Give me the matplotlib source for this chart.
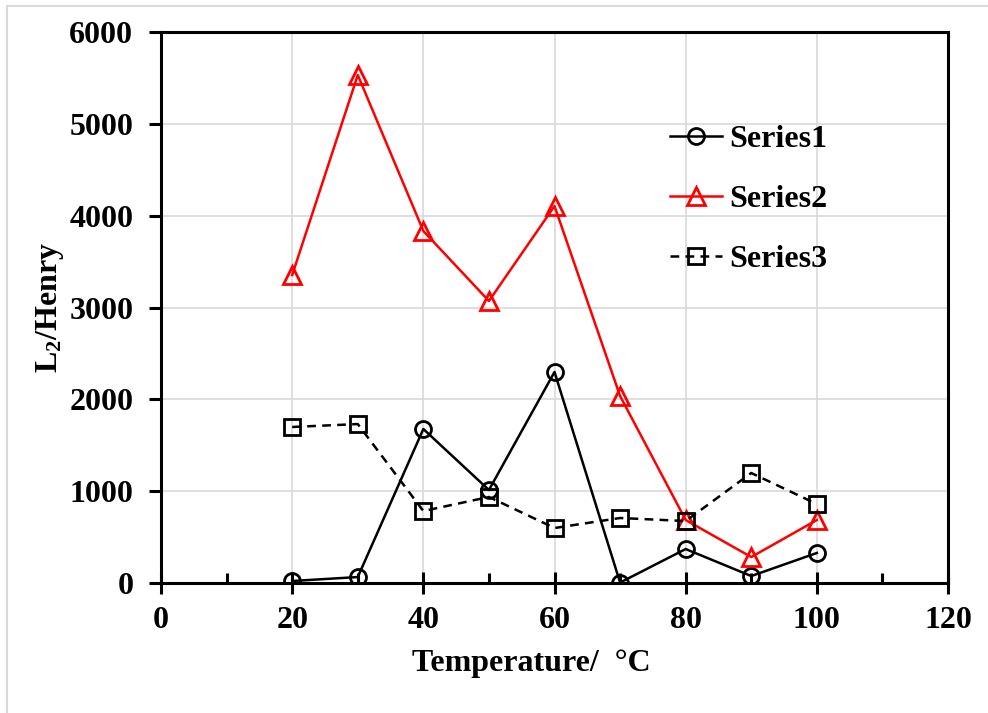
#!/usr/bin/env python3
"""Inductance L2 versus temperature for three series."""

import matplotlib

matplotlib.use("Agg")
import matplotlib.pyplot as plt
from matplotlib.patches import Rectangle
from matplotlib.ticker import MultipleLocator

plt.rcParams["font.family"] = ["Liberation Serif", "DejaVu Serif"]
plt.rcParams["font.weight"] = "bold"
plt.rcParams["mathtext.fontset"] = "custom"
plt.rcParams["mathtext.rm"] = "Liberation Serif:bold"
plt.rcParams["mathtext.default"] = "rm"

temperature = [20, 30, 40, 50, 60, 70, 80, 90, 100]
series1 = [22, 65, 1677, 1013, 2298, 5, 370, 76, 327]
series2 = [3354, 5532, 3833, 3071, 4105, 2036, 686, 283, 686]
series3 = [1699, 1731, 784, 937, 599, 708, 675, 1198, 860]
labels = ["Series1", "Series2", "Series3"]

FS = 23

fig = plt.figure(figsize=(9.88, 7.13), dpi=100)
ax = fig.add_axes([0.163, 0.1823, 0.7965, 0.7728])

# light gray frame around the whole picture
fig.patches.append(
    Rectangle((7 / 988, -0.01), 1.0, 1 - 6 / 713 + 0.01, transform=fig.transFigure,
              fill=False, edgecolor="#d9d9d9", linewidth=1.5)
)

common = dict(linewidth=1.8, markerfacecolor="none", markeredgewidth=2.0)
ax.plot(temperature, series1, color="black", marker="o", markersize=11.5,
        label=labels[0], **common)
ax.plot(temperature, series2, color="red", marker="^", markersize=12.5,
        label=labels[1], **common)
ax.plot(temperature, series3, color="black", linestyle=(0, (3.5, 2.5)), marker="s",
        markersize=11, label=labels[2], **common)

ax.set_xlim(0, 120)
ax.set_ylim(0, 6000)
ax.xaxis.set_major_locator(MultipleLocator(20))
ax.xaxis.set_minor_locator(MultipleLocator(10))
ax.yaxis.set_major_locator(MultipleLocator(1000))

ax.grid(True, which="major", color="#d9d9d9", linewidth=1.2)
ax.set_axisbelow(True)

for spine in ax.spines.values():
    spine.set_linewidth(2.2)

ax.tick_params(axis="x", which="major", direction="inout", length=16, width=2.2,
               labelsize=FS, pad=8.5)
ax.tick_params(axis="x", which="minor", direction="in", length=7, width=2.2)
ax.tick_params(axis="y", which="major", direction="out", length=9, width=2.2,
               labelsize=FS, pad=11)

ax.set_xlabel("Temperature/  \u00b0C", fontsize=FS, fontweight="bold", labelpad=10)
ax.xaxis.label.set_x(0.47)
ax.set_ylabel("L$_2$/Henry", fontsize=FS, fontweight="bold", labelpad=2)

ax.legend(loc="upper left", bbox_to_anchor=(0.627, 0.86), frameon=False,
          fontsize=FS, handlelength=1.6, handletextpad=0.25, labelspacing=0.95,
          borderpad=0)

fig.savefig("out.png", dpi=100)
plt.close(fig)
